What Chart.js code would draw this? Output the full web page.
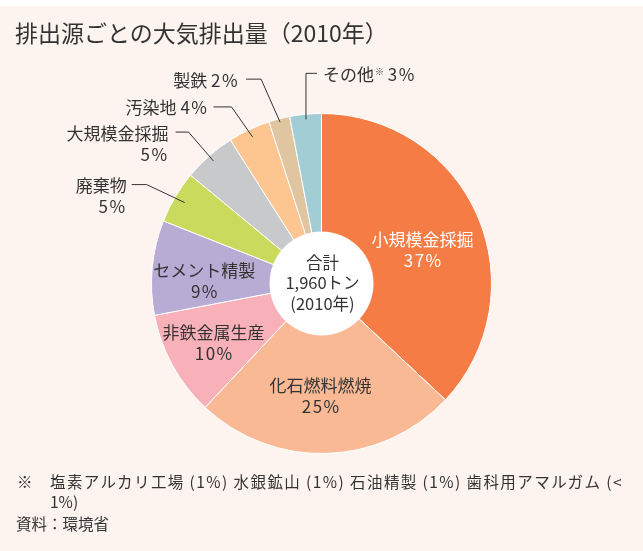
<!DOCTYPE html>
<html lang="ja">
<head>
<meta charset="utf-8">
<script src="https://cdn.jsdelivr.net/npm/chart.js@4.4.0/dist/chart.umd.min.js"></script>
<style>
  body { margin: 0; background: #ffffff; font-family: "Noto Sans CJK JP", "Noto Sans", sans-serif; color: #333; }
  #panel { position: absolute; left: 0; top: 6px; width: 643px; height: 545px; background: #fdf4ef; }
  #chart { position: absolute; left: 0; top: 0; }
  .txt { position: absolute; white-space: nowrap; line-height: 1; }
  #title { left: 15px; top: 21px; font-size: 23px; }
  .note { font-size: 15.5px; }
</style>
</head>
<body>
<div id="panel"></div>
<canvas id="chart" width="643" height="551"></canvas>
<div id="title" class="txt">排出源ごとの大気排出量（2010年）</div>
<div class="txt note" style="left:17px;top:474px;">※</div>
<div id="note1" class="txt note" style="left:50px;top:474px;">塩素アルカリ工場 (1%) 水銀鉱山 (1%) 石油精製 (1%) 歯科用アマルガム (&lt;</div>
<div class="txt note" style="left:50px;top:494px;">1%)</div>
<div class="txt note" style="left:16px;top:516px;">資料：環境省</div>
<script>
// data (shares in %)
const categories = ['小規模金採掘', '化石燃料燃焼', '非鉄金属生産', 'セメント精製', '廃棄物', '大規模金採掘', '汚染地', '製鉄', 'その他'];
const shares = [37, 25, 10, 9, 5, 5, 4, 2, 3];
const sliceColors = ['#f57c45', '#f9b994', '#f8b1b9', '#b8acd5', '#c9da5c', '#c8c9cb', '#fdc58f', '#dfc5a0', '#a3cdd4'];
const totalLines = ['合計', '1,960トン', '(2010年)'];

const FONT = '"Noto Sans CJK JP", "Noto Sans", sans-serif';
const TEXT = '#333333';
const LABEL_SIZE = 17;

// where each label goes, relative to its slice
const labelLayout = [
    { mode: 'inside', r: 0.625, shift: 5.3, color: '#ffffff' },
    { mode: 'inside', r: 0.665, shift: 2.3, color: TEXT },
    { mode: 'inside', r: 0.725, shift: 0, color: TEXT },
    { mode: 'inside', r: 0.69, shift: -4.4, color: TEXT },
    { mode: 'outside', r: 0.935, dx: -38, dy: -18, h: -15, gap: 5, twoLines: true },
    { mode: 'outside', r: 0.96, dx: -25, dy: -29, h: -13, gap: 7, twoLines: true },
    { mode: 'outside', r: 0.953, dx: -21, dy: -30, h: -18, gap: 5, twoLines: false },
    { mode: 'outside', r: 0.98, dx: -19, dy: -43, h: -15, gap: 7, twoLines: false },
    { mode: 'outside', r: 0.97, dx: 0, dy: -46, h: 11, gap: 6, twoLines: false, mark: true }
];

function font(size) {
    return size + 'px ' + FONT;
}

// percent figures are set a little looser than the names
function pctText(ctx, text, x, y) {
    ctx.letterSpacing = '1.5px';
    const w = ctx.measureText(text).width;
    let px = x;
    if (ctx.textAlign === 'center') px = x - w / 2 + 0.75;
    if (ctx.textAlign === 'right') px = x - w;
    const align = ctx.textAlign;
    ctx.textAlign = 'left';
    ctx.fillText(text, px, y);
    ctx.textAlign = align;
    ctx.letterSpacing = '0px';
    return w;
}

const centerPlugin = {
    id: 'centerTotal',
    afterDatasetsDraw(chart) {
        const ctx = chart.ctx;
        const arc = chart.getDatasetMeta(0).data[0];
        ctx.save();
        ctx.fillStyle = '#ffffff';
        ctx.beginPath();
        ctx.arc(arc.x, arc.y, 52, 0, Math.PI * 2);
        ctx.fill();
        ctx.fillStyle = TEXT;
        ctx.font = font(16.5);
        ctx.textAlign = 'center';
        ctx.textBaseline = 'middle';
        totalLines.forEach((line, i) => {
            ctx.fillText(line, arc.x + 1, arc.y - 21 + i * 20.5);
        });
        ctx.restore();
    }
};

const labelPlugin = {
    id: 'sliceLabels',
    afterDraw(chart) {
        const ctx = chart.ctx;
        const arcs = chart.getDatasetMeta(0).data;
        ctx.save();
        ctx.font = font(LABEL_SIZE);
        ctx.textBaseline = 'middle';
        arcs.forEach((arc, i) => {
            const lay = labelLayout[i];
            const pct = shares[i] + '%';
            const mid = (arc.startAngle + arc.endAngle) / 2;
            if (lay.mode === 'inside') {
                const a = mid + lay.shift * Math.PI / 180;
                const x = arc.x + Math.cos(a) * arc.outerRadius * lay.r;
                const y = arc.y + Math.sin(a) * arc.outerRadius * lay.r;
                ctx.fillStyle = lay.color;
                ctx.textAlign = 'center';
                ctx.fillText(categories[i], x, y - 10.5);
                pctText(ctx, pct, x, y + 10.5);
                return;
            }
            // leader line: anchor in slice -> elbow -> short horizontal
            const ax = arc.x + Math.cos(mid) * arc.outerRadius * lay.r;
            const ay = arc.y + Math.sin(mid) * arc.outerRadius * lay.r;
            const ex = ax + lay.dx;
            const ey = ay + lay.dy;
            const hx = ex + lay.h;
            ctx.strokeStyle = '#333333';
            ctx.lineWidth = 1;
            ctx.beginPath();
            ctx.moveTo(ax, ay);
            ctx.lineTo(ex, ey);
            ctx.lineTo(hx, ey);
            ctx.stroke();
            ctx.fillStyle = TEXT;
            const ty = ey + 1;
            if (lay.h < 0) {
                const tx = hx - lay.gap;
                ctx.textAlign = 'right';
                if (lay.twoLines) {
                    ctx.fillText(categories[i], tx, ty);
                    pctText(ctx, pct, tx, ty + 21);
                } else {
                    const w = pctText(ctx, pct, tx, ty);
                    ctx.fillText(categories[i] + ' ', tx - w, ty);
                }
            } else {
                let tx = hx + lay.gap;
                ctx.textAlign = 'left';
                ctx.fillText(categories[i], tx, ty);
                tx += ctx.measureText(categories[i]).width + 1;
                if (lay.mark) {
                    ctx.font = font(9);
                    ctx.fillText('※', tx, ty - 3);
                    tx += ctx.measureText('※').width;
                    ctx.font = font(LABEL_SIZE);
                }
                tx += ctx.measureText(' ').width;
                pctText(ctx, pct, tx, ty);
            }
        });
        ctx.restore();
    }
};

new Chart(document.getElementById('chart'), {
    type: 'pie',
    data: {
        labels: categories,
        datasets: [{
            data: shares,
            backgroundColor: sliceColors,
            borderColor: '#ffffff',
            borderWidth: 1
        }]
    },
    options: {
        responsive: false,
        animation: false,
        layout: {
            padding: { left: 151, right: 151, top: 113, bottom: 97 }
        },
        plugins: {
            legend: { display: false },
            tooltip: { enabled: false }
        }
    },
    plugins: [centerPlugin, labelPlugin]
});

// stretch the first footnote line to the reference width
const note1 = document.getElementById('note1');
const natural = note1.getBoundingClientRect().width;
const chars = note1.textContent.length;
note1.style.letterSpacing = ((573 - natural) / chars) + 'px';
</script>
</body>
</html>
